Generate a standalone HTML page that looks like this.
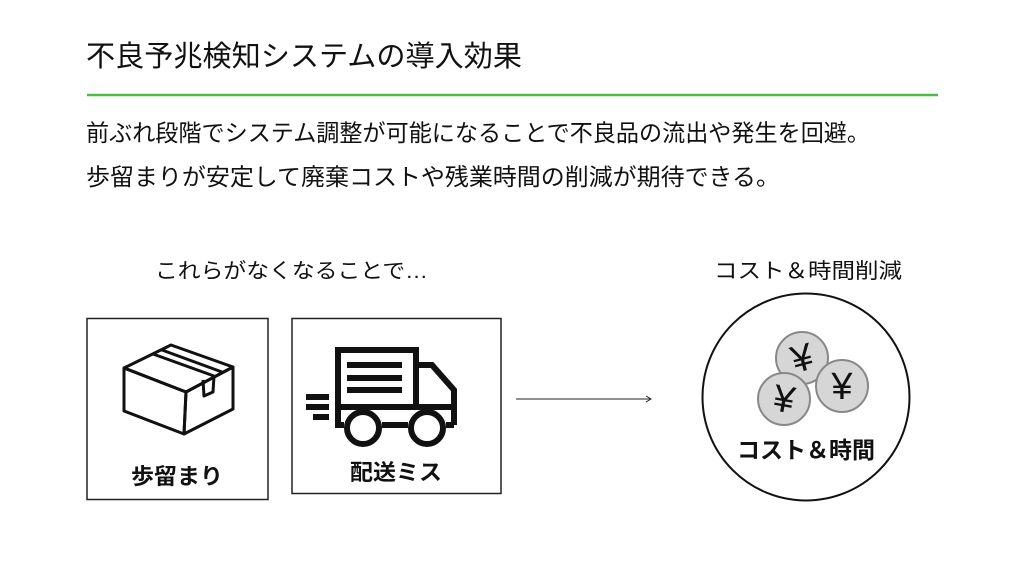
<!DOCTYPE html>
<html><head><meta charset="utf-8"><style>
html,body{margin:0;padding:0;background:#fff;}
svg{display:block;}
text{font-family:"Liberation Sans","Noto Sans CJK JP",sans-serif;fill:#111;}
</style></head><body>
<svg width="1024" height="576" viewBox="0 0 1024 576" xmlns="http://www.w3.org/2000/svg">
<text x="86" y="66" font-size="29" textLength="436" lengthAdjust="spacingAndGlyphs">不良予兆検知システムの導入効果</text>
<line x1="87" y1="95" x2="938" y2="95" stroke="#4cbb47" stroke-width="2.5"/>
<text x="86" y="141" font-size="23.5" textLength="784" lengthAdjust="spacingAndGlyphs">前ぶれ段階でシステム調整が可能になることで不良品の流出や発生を回避。</text>
<text x="86" y="185" font-size="23.5" textLength="694" lengthAdjust="spacingAndGlyphs">歩留まりが安定して廃棄コストや残業時間の削減が期待できる。</text>
<text x="155" y="278" font-size="21" textLength="273" lengthAdjust="spacingAndGlyphs">これらがなくなることで…</text>
<text x="714" y="278" font-size="21" textLength="188" lengthAdjust="spacingAndGlyphs">コスト＆時間削減</text>

<rect x="87" y="318.5" width="181" height="181" fill="none" stroke="#222" stroke-width="1.5"/>
<rect x="292" y="318.5" width="209" height="175" fill="none" stroke="#222" stroke-width="1.5"/>

<!-- box icon -->
<g fill="none" stroke="#111" stroke-width="3" stroke-linejoin="round">
<polygon points="124,368 171,345 233,367 186,392"/>
<polygon points="124,368 124,411 184,434 186,392"/>
<polygon points="186,392 233,367 233,409 184,434"/>
<line x1="153" y1="354" x2="214" y2="376"/>
<line x1="162" y1="350" x2="222" y2="372"/>
<polyline points="203,380 204,396 213,392 214,376"/>
</g>
<text x="177" y="484" font-size="22" font-weight="bold" text-anchor="middle" textLength="92" lengthAdjust="spacingAndGlyphs">歩留まり</text>

<!-- truck -->
<g fill="none" stroke="#111" stroke-width="6" stroke-linejoin="miter">
<polyline points="338,408 338,350 416,350 416,408"/>
<polyline points="416,365 432,365 454,390 454,425"/>
<line x1="338" y1="407" x2="454" y2="407"/>
<polyline points="338,405 338,425 344,425"/>
<line x1="382" y1="425" x2="408" y2="425"/>
<line x1="446" y1="425" x2="454" y2="425"/>
<circle cx="363" cy="428" r="16" fill="#fff"/>
<circle cx="427" cy="428" r="16" fill="#fff"/>
</g>
<g fill="#111">
<rect x="347" y="362" width="55" height="6"/>
<rect x="347" y="375" width="55" height="6"/>
<rect x="347" y="387" width="55" height="6"/>
<rect x="306" y="394" width="23" height="6"/>
<rect x="306" y="404" width="23" height="6"/>
<rect x="313" y="414" width="16" height="6"/>
</g>
<text x="396" y="480" font-size="22" font-weight="bold" text-anchor="middle" textLength="92" lengthAdjust="spacingAndGlyphs">配送ミス</text>

<!-- arrow -->
<line x1="516" y1="399" x2="650" y2="399" stroke="#222" stroke-width="1"/>
<polyline points="646,396 651,399 646,402" fill="none" stroke="#222" stroke-width="1"/>

<!-- circle -->
<circle cx="806" cy="397" r="103.5" fill="none" stroke="#111" stroke-width="2"/>
<g stroke="#888" stroke-width="2" fill="#d6d6d6">
<circle cx="802" cy="358" r="26"/>
<circle cx="842" cy="386" r="26"/>
<circle cx="784" cy="399" r="26"/>
</g>
<g font-size="38" text-anchor="middle">
<text x="802" y="371" transform="rotate(-15 802 358)">¥</text>
<text x="842" y="399">¥</text>
<text x="784" y="412" transform="rotate(10 784 399)">¥</text>
</g>
<text x="806" y="458" font-size="23" font-weight="bold" text-anchor="middle" textLength="138" lengthAdjust="spacingAndGlyphs">コスト＆時間</text>
</svg>
</body></html>
